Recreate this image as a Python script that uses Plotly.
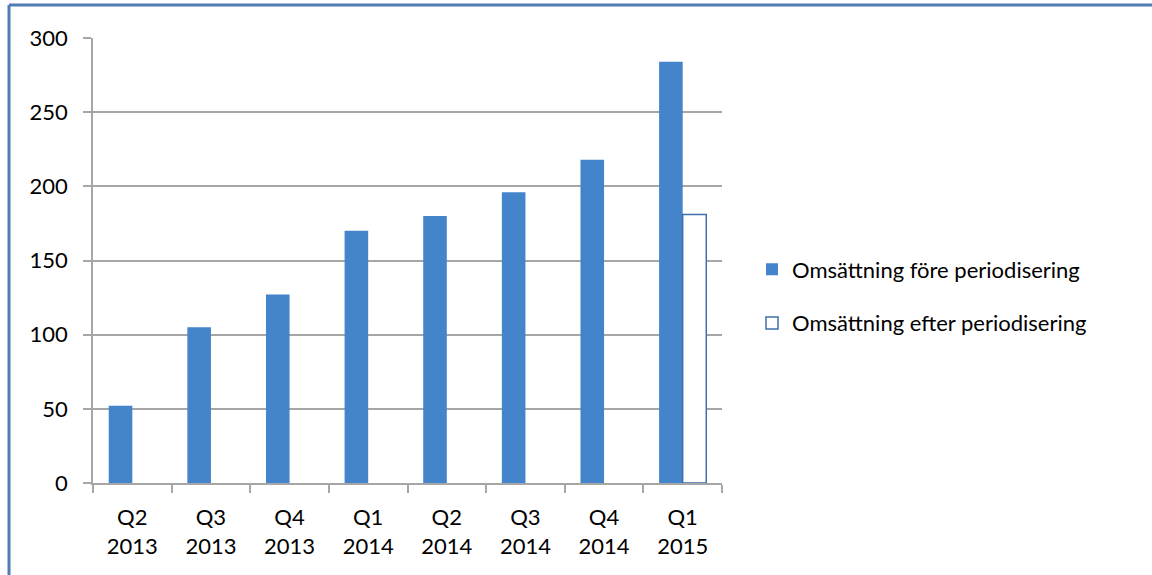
import plotly.graph_objects as go

categories = ["Q2<br>2013", "Q3<br>2013", "Q4<br>2013", "Q1<br>2014",
              "Q2<br>2014", "Q3<br>2014", "Q4<br>2014", "Q1<br>2015"]
fore = [52, 105, 127, 170, 180, 196, 218, 284]
efter = [None, None, None, None, None, None, None, 181]
series_names = ["Omsättning före periodisering", "Omsättning efter periodisering"]
y_ticks = [0, 50, 100, 150, 200, 250, 300]

FONT = "Lato"
GRID = "#a6a6a6"
FRAME = "#4f7db4"

FIG_W, FIG_H = 1152, 575
L, T = 93, 38
R = FIG_W - 722
B = FIG_H - 483
W, H = FIG_W - L - R, FIG_H - T - B

fx0 = (9 - L) / W
fx1 = (1200 - L) / W
fy_top = 1 + (T - 5) / H
fy_bot = -(B + 20) / H

fig = go.Figure()
fig.add_trace(go.Bar(
    x=categories, y=fore, name=series_names[0], legendgroup="a",
    marker=dict(color="#4384cb", line=dict(width=0)),
))
fig.add_trace(go.Bar(
    x=categories, y=efter, name=series_names[1], legendgroup="b",
    marker=dict(color="white", line=dict(color="#3f70ab", width=1.5)),
))

fig.update_layout(
    width=FIG_W, height=FIG_H,
    margin=dict(l=L, r=R, t=T, b=B, pad=0),
    paper_bgcolor="white", plot_bgcolor="white",
    barmode="group", bargap=0.40, bargroupgap=0,
    font=dict(family=FONT, size=22, color="black"),
    showlegend=True,
    legend=dict(
        x=(752 - L) / W, xanchor="left",
        y=(483 - 296.5) / H, yanchor="middle",
        font=dict(family=FONT, size=22, color="black"),
        traceorder="grouped", tracegroupgap=22,
        bgcolor="rgba(0,0,0,0)",
    ),
    shapes=[
        dict(type="line", xref="paper", yref="paper",
             x0=fx0, x1=fx1, y0=fy_top, y1=fy_top,
             line=dict(color=FRAME, width=3), layer="above"),
        dict(type="line", xref="paper", yref="paper",
             x0=fx0, x1=fx0, y0=fy_bot, y1=fy_top,
             line=dict(color=FRAME, width=3), layer="above"),
    ],
)
fig.update_xaxes(
    showline=True, linecolor=GRID, linewidth=1.5,
    ticks="outside", tickson="boundaries", ticklen=8, tickcolor=GRID, tickwidth=1.5,
    showgrid=False, ticklabelstandoff=14,
)
fig.update_yaxes(
    range=[0, 300], tickvals=y_ticks,
    showline=True, linecolor=GRID, linewidth=1.5,
    ticks="outside", ticklen=8, tickcolor=GRID, tickwidth=1.5,
    showgrid=True, gridcolor=GRID, gridwidth=1.5,
    zeroline=False, ticklabelstandoff=11,
)

fig.write_html("out.html", config={"displayModeBar": False},
               post_script="document.body.style.margin='0';")
